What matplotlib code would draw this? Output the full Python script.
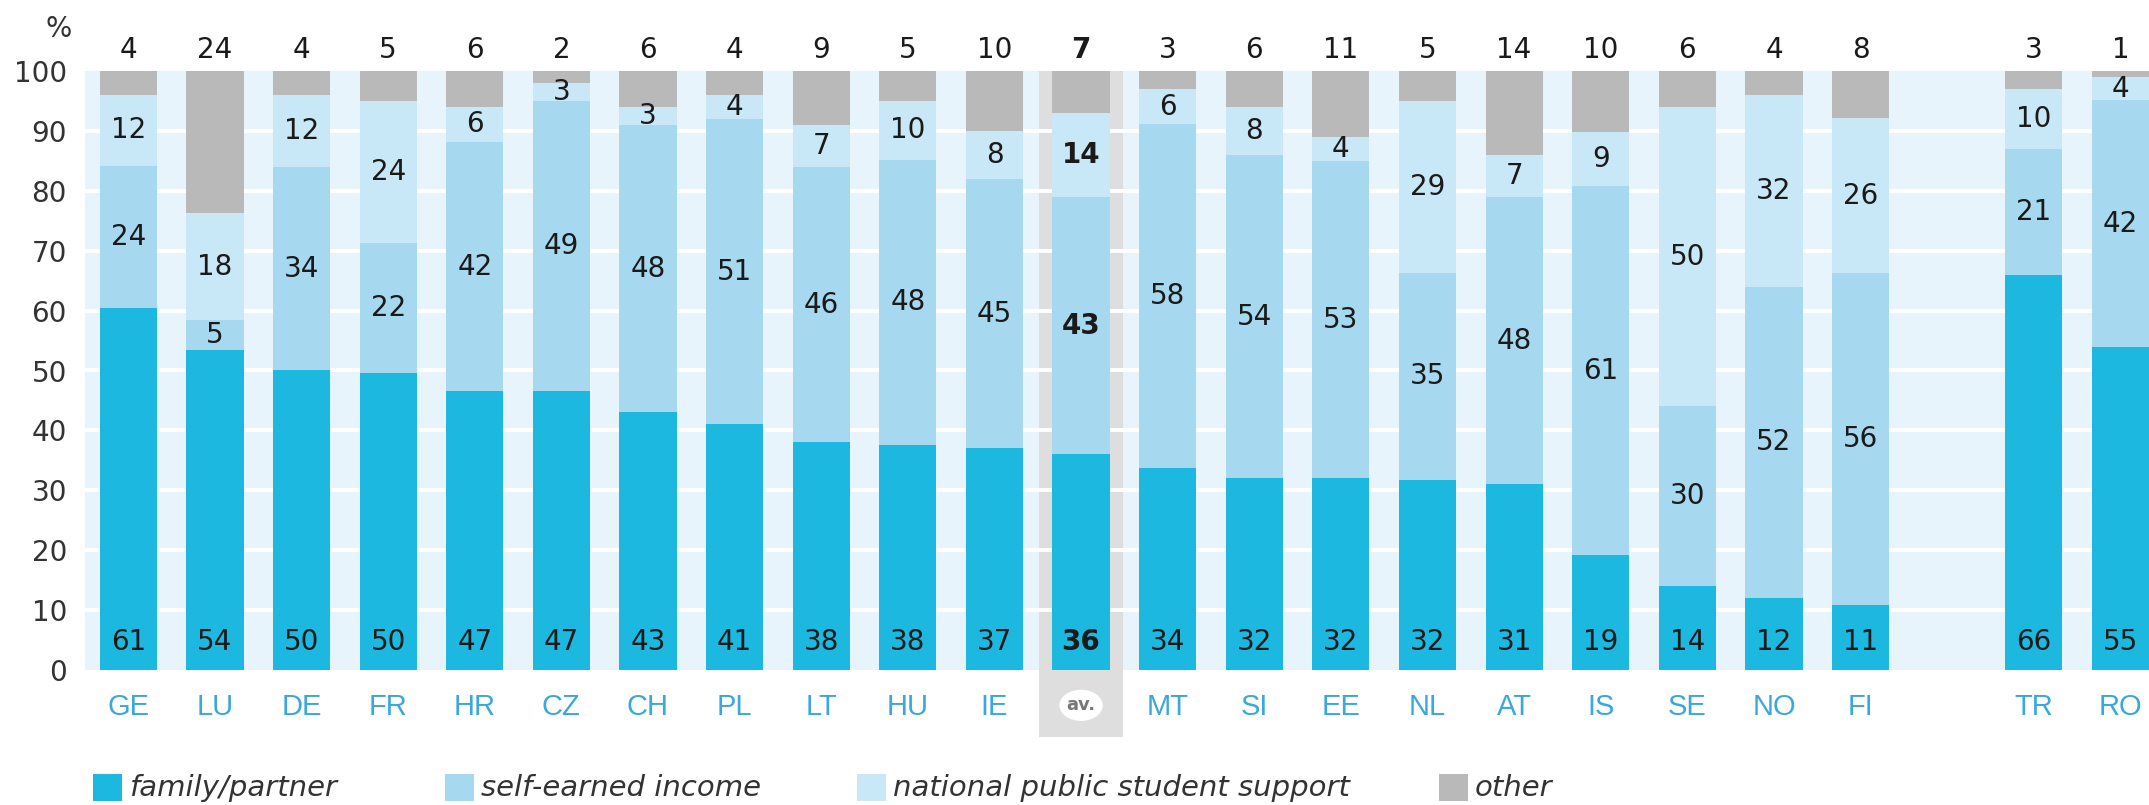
import matplotlib

matplotlib.use("Agg")
import matplotlib.pyplot as plt
from matplotlib import font_manager
from matplotlib.patches import Ellipse, Rectangle

# share of students' income by source, %
countries = ["GE", "LU", "DE", "FR", "HR", "CZ", "CH", "PL", "LT", "HU", "IE", "av.",
             "MT", "SI", "EE", "NL", "AT", "IS", "SE", "NO", "FI", "TR", "RO"]
positions = list(range(21)) + [22, 23]
family = [61, 54, 50, 50, 47, 47, 43, 41, 38, 38, 37, 36, 34, 32, 32, 32, 31, 19, 14, 12, 11, 66, 55]
self_earned = [24, 5, 34, 22, 42, 49, 48, 51, 46, 48, 45, 43, 58, 54, 53, 35, 48, 61, 30, 52, 56, 21, 42]
national = [12, 18, 12, 24, 6, 3, 3, 4, 7, 10, 8, 14, 6, 8, 4, 29, 7, 9, 50, 32, 26, 10, 4]
other = [4, 24, 4, 5, 6, 2, 6, 4, 9, 5, 10, 7, 3, 6, 11, 5, 14, 10, 6, 4, 8, 3, 1]

series_names = ["family/partner", "self-earned income", "national public student support", "other"]
colors = ["#1cb8e0", "#a6d9f0", "#c9e8f7", "#b9b9b9"]
BG = "#e8f4fb"
AV_BG = "#dedede"
TICK_BLUE = "#3aa8dc"
TEXT = "#1a1a1a"

available = {f.name for f in font_manager.fontManager.ttflist}
narrow = "Liberation Sans Narrow" if "Liberation Sans Narrow" in available else "Liberation Sans"

plt.rcParams["font.family"] = ["DejaVu Sans"]

fig = plt.figure(figsize=(21.49, 8.05), dpi=100)
ax = fig.add_axes([85 / 2149, 1 - 670 / 805, (2149 - 85) / 2149, (670 - 71) / 805])
ax.set_facecolor(BG)
for s in ax.spines.values():
    s.set_visible(False)

ax.set_xlim(-0.5, 23.33)
ax.set_ylim(0, 100)

av_idx = countries.index("av.")
av_x = positions[av_idx]
ax.add_patch(Rectangle((av_x - 0.48, -11.2), 0.96, 111.2, facecolor=AV_BG,
                       edgecolor="none", zorder=0.3, clip_on=False))

for yv in range(10, 100, 10):
    ax.axhline(yv, color="white", lw=2.8, zorder=0.6)

# rounded shares don't always add to 100: bars are scaled to fill the column
series = [family, self_earned, national, other]
totals = [sum(v) for v in zip(*series)]
width = 0.66
bottom = [0.0] * len(countries)
seg_bounds = []
for vals, col in zip(series, colors):
    heights = [v * 100 / t for v, t in zip(vals, totals)]
    ax.bar(positions, heights, width=width, bottom=bottom, color=col, zorder=2)
    seg_bounds.append(list(zip(bottom, [b + h for b, h in zip(bottom, heights)])))
    bottom = [b + h for b, h in zip(bottom, heights)]

# value labels
for i, x in enumerate(positions):
    weight = "bold" if i == av_idx else "normal"
    kw = dict(ha="center", va="center", fontsize=20, color=TEXT, weight=weight, zorder=3)
    ax.text(x, 4.7, str(family[i]), **kw)
    for k, vals in ((1, self_earned), (2, national)):
        lo, hi = seg_bounds[k][i]
        ax.text(x, (lo + hi) / 2, str(vals[i]), **kw)
    ax.text(x, 103.5, str(other[i]), clip_on=False, **kw)

# country labels
for i, x in enumerate(positions):
    if i == av_idx:
        ax.add_patch(Ellipse((x, -5.9), 0.5, 5.2, facecolor="white", edgecolor="none",
                             zorder=3, clip_on=False))
        ax.text(x, -5.9, "av.", ha="center", va="center", fontsize=13, color="#777777",
                weight="bold", zorder=4, clip_on=False)
    else:
        ax.text(x, -6.2, countries[i], ha="center", va="center", fontsize=21,
                color=TICK_BLUE, family=narrow, clip_on=False)

ax.set_xticks([])
ax.set_yticks(range(0, 101, 10))
ax.tick_params(axis="y", length=0, pad=13, labelsize=20, labelcolor="#333333")
fig.text(72 / 2149, 1 - 29 / 805, "%", ha="right", va="center", fontsize=20, color="#333333")

# legend
legend_x = [93, 445, 857, 1439]
for lx, name, col in zip(legend_x, series_names, colors):
    fig.patches.append(Rectangle((lx / 2149, 1 - 801 / 805), 29 / 2149, 27 / 805,
                                 transform=fig.transFigure, facecolor=col, edgecolor="none"))
    fig.text((lx + 36) / 2149, 1 - 788 / 805, name, ha="left", va="center", fontsize=21,
             style="italic", color="#333333")

fig.savefig("out.png", dpi=100)
